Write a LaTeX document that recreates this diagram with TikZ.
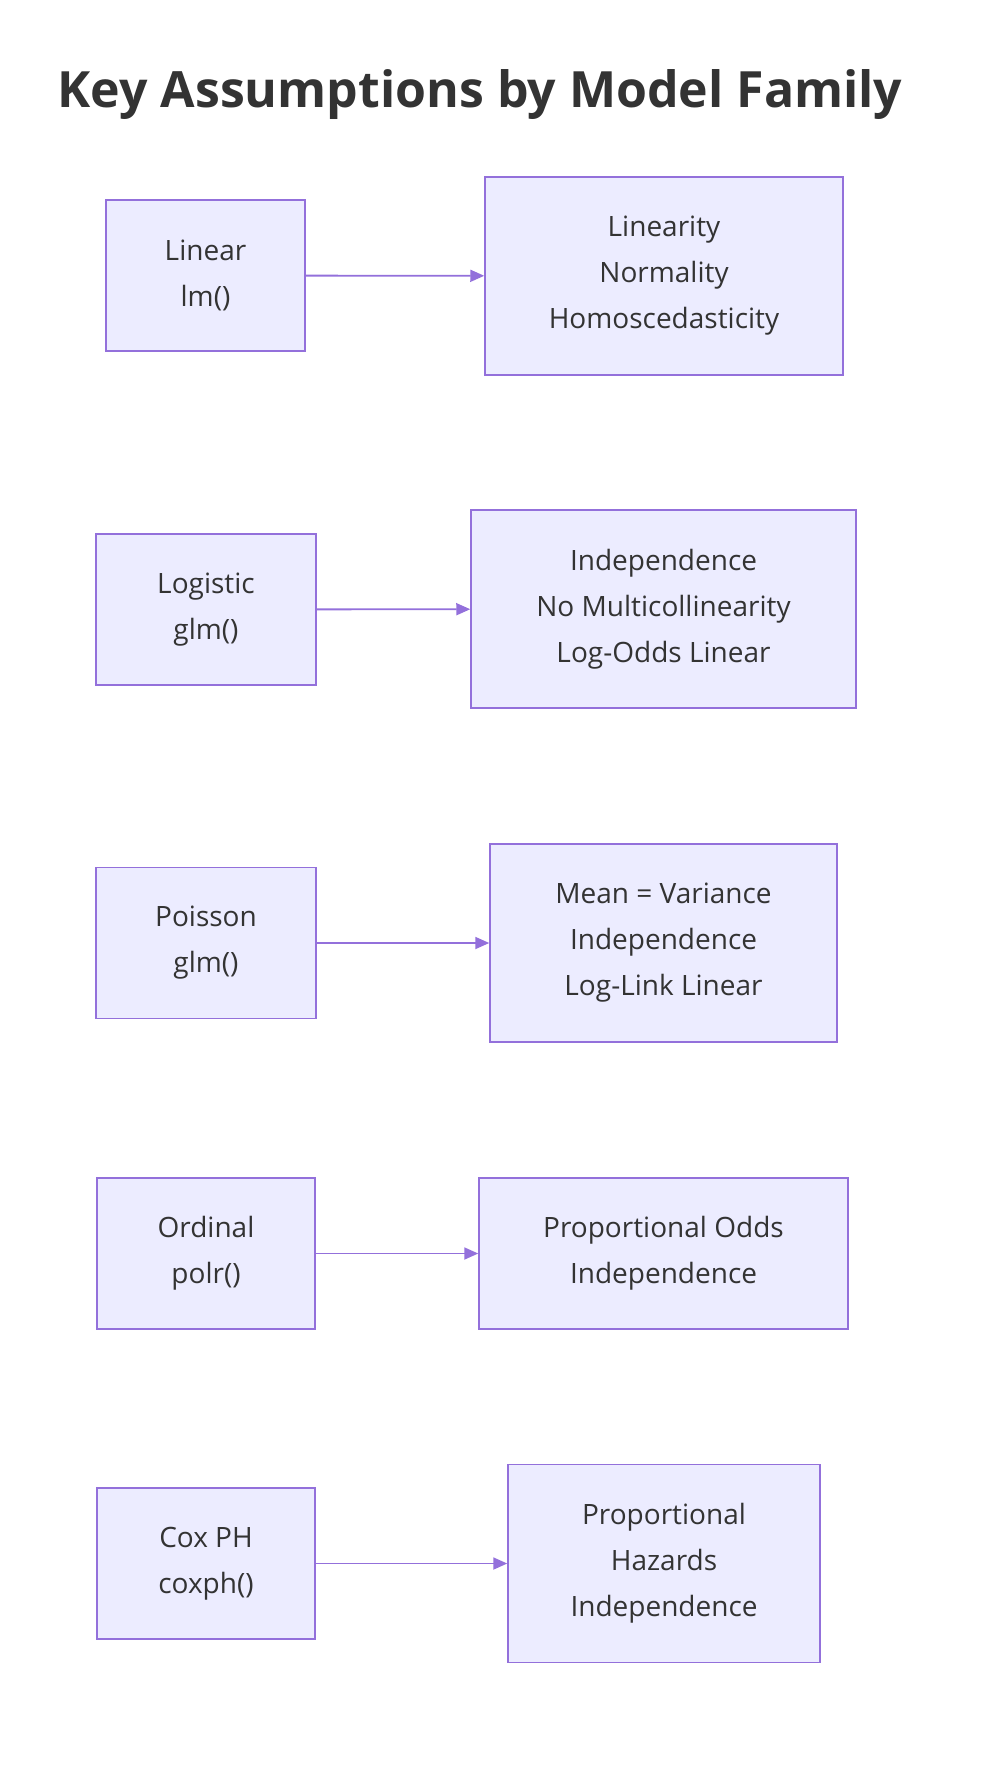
\documentclass[tikz,border=0pt]{standalone}
\usepackage{fontspec}
\setmainfont{Open Sans}
\usetikzlibrary{positioning,arrows.meta}
\definecolor{mmfill}{HTML}{ECECFF}
\definecolor{mmline}{HTML}{9370DB}
\definecolor{mmtext}{HTML}{333333}

\begin{document}
\begin{tikzpicture}[
    x=1pt, y=-1pt,
    model/.style={rectangle, draw=mmline, line width=1.5pt, fill=mmfill, text=mmtext, align=center, font=\fontsize{28}{46}\selectfont, minimum height=151pt, inner sep=0pt},
    assume/.style={model, minimum height=198pt},
    link/.style={-{Triangle[length=14pt,width=12pt]}, draw=mmline, line width=1.8pt}
]
\useasboundingbox[fill=white] (0,0) rectangle (984,1770);

% Title
\node[anchor=west, text=mmtext, font=\fontsize{50}{60}\selectfont\bfseries] (title) at (54,95) {Key Assumptions by Model Family};

% Linear
\node[model, minimum width=199pt] (lin) at (205.5,275.5) {Linear\\lm()};
\node[assume, minimum width=358pt] (linA) at (664,276) {Linearity\\Normality\\Homoscedasticity};

% Logistic
\node[model, minimum width=220pt] (logit) at (206,609.5) {Logistic\\glm()};
\node[assume, minimum width=385pt] (logitA) at (663.5,609) {Independence\\No Multicollinearity\\Log-Odds Linear};

% Poisson
\node[model, minimum width=220pt] (pois) at (206,943) {Poisson\\glm()};
\node[assume, minimum width=347pt] (poisA) at (663.5,943) {Mean = Variance\\Independence\\Log-Link Linear};

% Ordinal
\node[model, minimum width=218pt] (ord) at (206,1253.5) {Ordinal\\polr()};
\node[model, minimum width=369pt] (ordA) at (663.5,1253.5) {Proportional Odds\\Independence};

% Cox PH
\node[model, minimum width=218pt] (cox) at (206,1563.5) {Cox PH\\coxph()};
\node[assume, minimum width=312pt] (coxA) at (664,1563.5) {Proportional\\Hazards\\Independence};

% Arrows
\draw[link] (lin) -- (linA);
\draw[link] (logit) -- (logitA);
\draw[link] (pois) -- (poisA);
\draw[link] (ord) -- (ordA);
\draw[link] (cox) -- (coxA);

\end{tikzpicture}
\end{document}
